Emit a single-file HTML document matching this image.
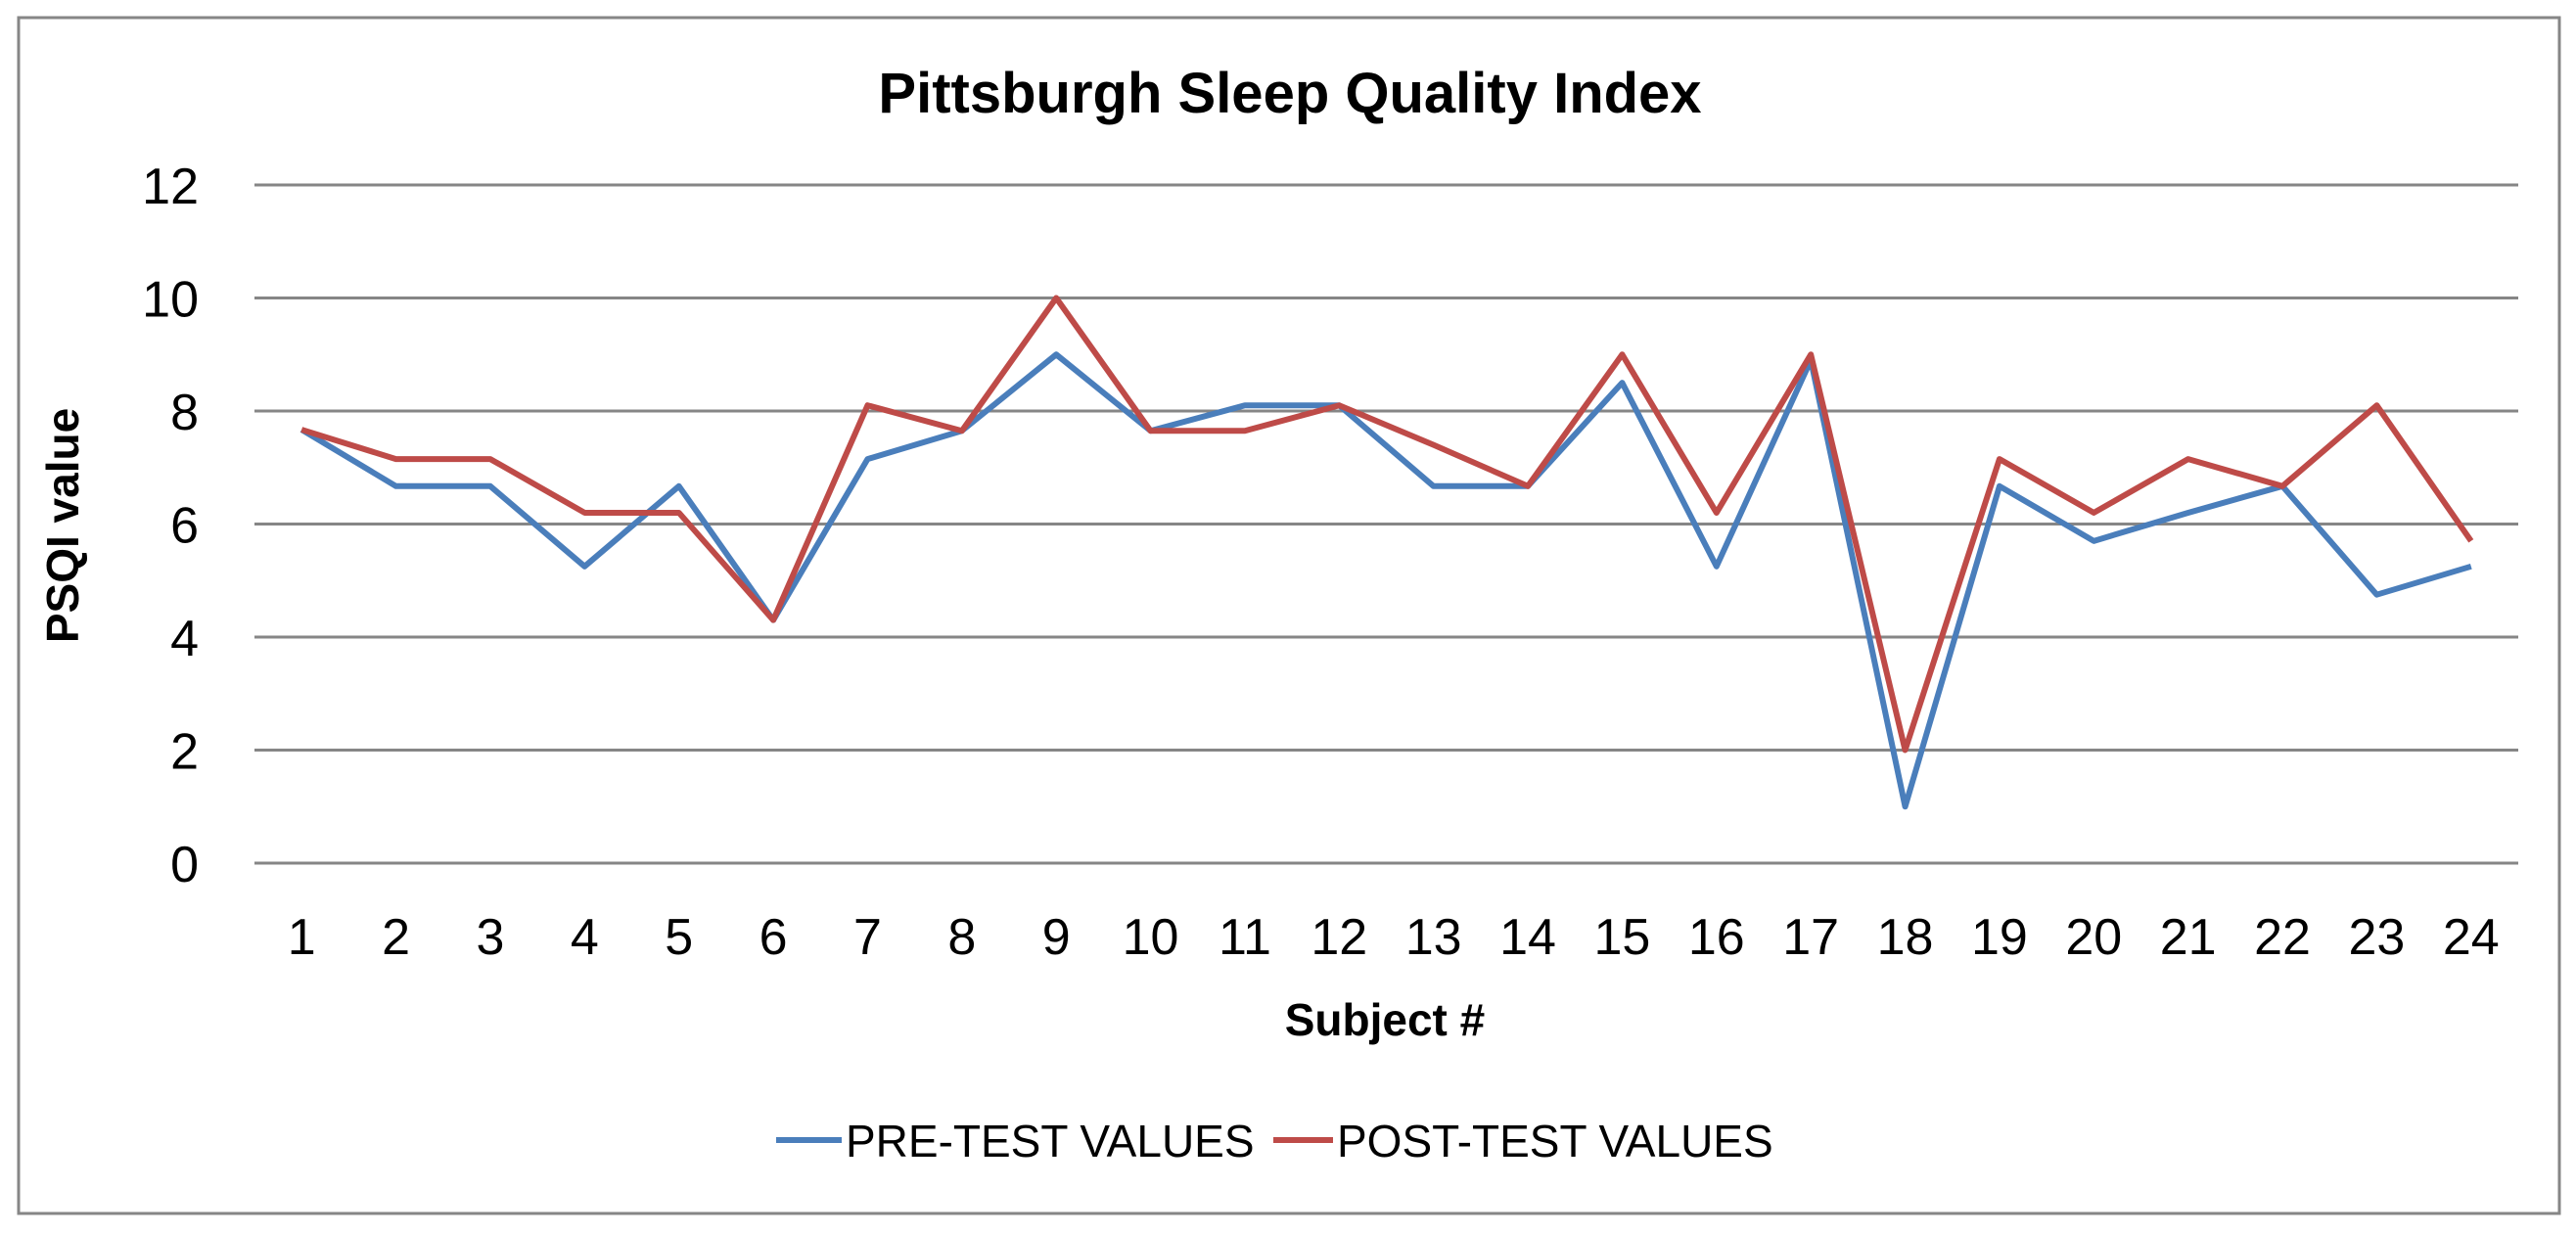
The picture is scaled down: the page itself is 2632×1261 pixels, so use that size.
<!DOCTYPE html>
<html><head><meta charset="utf-8"><style>
html,body{margin:0;padding:0;background:#fff;}
svg{display:block;font-family:"Liberation Sans",sans-serif;}
</style></head><body>
<svg id="chart" width="2632" height="1261" viewBox="0 0 2632 1261">
<rect x="19" y="18" width="2596" height="1222" fill="#fff" stroke="#868686" stroke-width="3"/>
<text x="1318" y="115" text-anchor="middle" font-size="58" font-weight="bold">Pittsburgh Sleep Quality Index</text>
<g id="grid"></g>
<g id="ylabels"></g>
<g id="xlabels"></g>
<g id="series"></g>
<text transform="translate(80,537) rotate(-90)" text-anchor="middle" font-size="46" font-weight="bold">PSQI value</text>
<text x="1415" y="1058" text-anchor="middle" font-size="46" font-weight="bold">Subject #</text>
<g>
<g>
<line x1="793" y1="1165" x2="860" y2="1165" stroke="#4a7ebb" stroke-width="6"/>
<text x="864" y="1182" font-size="46">PRE-TEST VALUES</text>
</g>
<g>
<line x1="1301" y1="1165" x2="1362" y2="1165" stroke="#be4b48" stroke-width="6"/>
<text x="1366" y="1182" font-size="46">POST-TEST VALUES</text>
</g>
</g>
</svg>
<script>
const categories = ["1","2","3","4","5","6","7","8","9","10","11","12","13","14","15","16","17","18","19","20","21","22","23","24"];
const preValues = [7.67,6.67,6.67,5.25,6.67,4.3,7.15,7.65,9,7.65,8.1,8.1,6.67,6.67,8.5,5.25,8.9,1,6.67,5.7,6.2,6.67,4.75,5.25];
const postValues = [7.67,7.15,7.15,6.2,6.2,4.3,8.1,7.65,10,7.65,7.65,8.1,7.4,6.67,9,6.2,9,2,7.15,6.2,7.15,6.67,8.1,5.7];
const yTicks = [0,2,4,6,8,10,12];

const NS = "http://www.w3.org/2000/svg";
const plotL = 260, plotR = 2573, y0px = 882, y12px = 189;
const band = (plotR - plotL) / categories.length;
function xScale(i){ return plotL + band * (i + 0.5); }
function yScale(v){ return y0px + (y12px - y0px) * v / 12; }
function mk(tag, attrs, parent){ const e = document.createElementNS(NS, tag); for (const k in attrs) e.setAttribute(k, attrs[k]); parent.appendChild(e); return e; }

const grid = document.getElementById('grid');
const yl = document.getElementById('ylabels');
yTicks.forEach(t => {
  const y = yScale(t);
  const ln = mk('line', {x1: plotL, x2: plotR, y1: y, y2: y, stroke: '#868686', 'stroke-width': 3}, grid);
  
  
  const tx = mk('text', {x: 203, y: y + 19, 'text-anchor': 'end', 'font-size': 52}, yl);
  tx.textContent = t;
  
  
});
const xl = document.getElementById('xlabels');
categories.forEach((c, i) => {
  const tx = mk('text', {x: xScale(i), y: 975, 'text-anchor': 'middle', 'font-size': 52}, xl);
  tx.textContent = c;
  
  
});
const ser = document.getElementById('series');
function drawLine(vals, color, name){
  const pts = vals.map((v, i) => xScale(i) + ',' + yScale(v)).join(' ');
  const p = mk('polyline', {points: pts, fill: 'none', stroke: color, 'stroke-width': 6, 'stroke-linejoin': 'round'}, ser);
  
  
}
drawLine(preValues, '#4a7ebb', 'pre-test-line');
drawLine(postValues, '#be4b48', 'post-test-line');
</script>
</body></html>
